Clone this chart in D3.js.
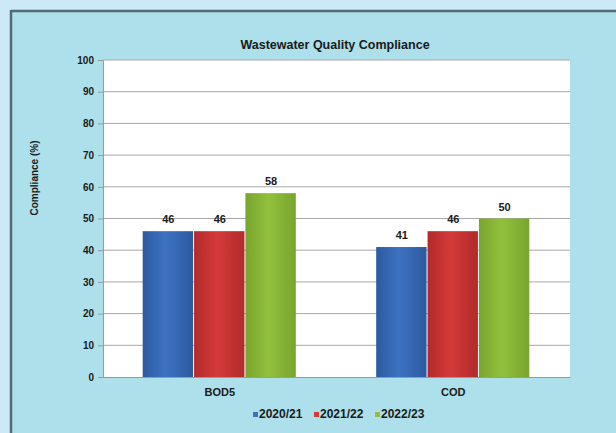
<!DOCTYPE html>
<html><head><meta charset="utf-8">
<script src="https://cdn.jsdelivr.net/npm/d3@7"></script>
<style>html,body{margin:0;padding:0;background:#cde9f7;}svg{display:block;}</style>
</head><body>
<script>
const categories = ["BOD5", "COD"];
const seriesNames = ["2020/21", "2021/22", "2022/23"];
const v2020 = [46, 41];
const v2021 = [46, 46];
const v2022 = [58, 50];
const yTicks = [0,10,20,30,40,50,60,70,80,90,100];
const title = "Wastewater Quality Compliance";
const yLabel = "Compliance (%)";
const colors = ["#3d72c2", "#d43a3a", "#92c03e"];
const darks = ["#2c5aa0", "#b32a2a", "#78a52c"];

(function(){
const W = 616, H = 433;
const FONT = "Liberation Sans, Arial, sans-serif";
const svg = d3.select("body").append("svg").attr("width", W).attr("height", H);
const defs = svg.append("defs");
colors.forEach((c,i)=>{
  const g = defs.append("linearGradient").attr("id","g"+i).attr("x1","0").attr("x2","1").attr("y1","0").attr("y2","0");
  g.append("stop").attr("offset","0%").attr("stop-color",darks[i]);
  g.append("stop").attr("offset","45%").attr("stop-color",c);
  g.append("stop").attr("offset","100%").attr("stop-color",darks[i]);
});
svg.append("rect").attr("x",0).attr("y",0).attr("width",W).attr("height",H).attr("fill","#cde9f7");
svg.append("rect").attr("x",11).attr("y",11).attr("width",W-11).attr("height",H-11).attr("fill","#ade0ea");
svg.append("line").attr("x1",11).attr("x2",W).attr("y1",11).attr("y2",11).attr("stroke","#4d6c74").attr("stroke-width",2.5);
svg.append("line").attr("x1",11).attr("x2",11).attr("y1",10).attr("y2",H).attr("stroke","#4d6c74").attr("stroke-width",2.5);

const pL = 103, pR = 570, pT = 60, pB = 377;
const x = d3.scaleBand().domain(categories).range([pL,pR]).paddingInner(0.34).paddingOuter(0.17);
const x1 = d3.scaleBand().domain(seriesNames).range([0,x.bandwidth()]).padding(0);
const y = d3.scaleLinear().domain([0,100]).range([pB, pT]);

svg.append("rect").attr("x",pL).attr("y",pT).attr("width",pR-pL).attr("height",pB-pT).attr("fill","#ffffff");
svg.append("g").selectAll("line").data(yTicks.filter(d=>d>0)).join("line")
  .attr("x1",pL).attr("x2",pR).attr("y1",d=>y(d)).attr("y2",d=>y(d))
  .attr("stroke","#a8a8a8").attr("stroke-width",1);

const yAxis = svg.append("g").attr("transform",`translate(${pL},0)`)
  .call(d3.axisLeft(y).tickValues(yTicks).tickSize(5).tickPadding(4));
yAxis.select(".domain").attr("stroke","#9a9a9a");
yAxis.selectAll(".tick line").attr("stroke","#9a9a9a");
yAxis.selectAll("text").attr("font-family",FONT).attr("font-weight","bold").attr("font-size","10px").attr("fill","#1a1a1a");

const xAxis = svg.append("g").attr("transform",`translate(0,${pB})`)
  .call(d3.axisBottom(x).tickSize(0).tickPadding(11));
xAxis.select(".domain").attr("stroke","#9a9a9a");
xAxis.selectAll("text").attr("font-family",FONT).attr("font-weight","bold").attr("font-size","11px").attr("fill","#1a1a1a");

const values = [v2020, v2021, v2022];
const rows = [];
categories.forEach((c,ci)=>seriesNames.forEach((s,si)=>rows.push({c, s, si, v: values[si][ci]})));

svg.append("g").selectAll("rect").data(rows).join("rect")
  .attr("x",d=>x(d.c)+x1(d.s)).attr("width",x1.bandwidth()-1)
  .attr("y",d=>y(d.v)).attr("height",d=>pB-y(d.v))
  .attr("fill",d=>`url(#g${d.si})`);

svg.append("g").selectAll("text").data(rows).join("text")
  .attr("x",d=>x(d.c)+x1(d.s)+x1.bandwidth()/2).attr("y",d=>y(d.v)-8)
  .attr("text-anchor","middle").attr("font-family",FONT)
  .attr("font-weight","bold").attr("font-size","11px").attr("fill","#1a1a1a").text(d=>d.v);

svg.append("text").attr("x",335).attr("y",49).attr("text-anchor","middle")
  .attr("font-family",FONT).attr("font-weight","bold").attr("font-size","12.5px").attr("fill","#1a1a1a").text(title);

svg.append("text").attr("transform","translate(38,178) rotate(-90)").attr("text-anchor","middle")
  .attr("font-family",FONT).attr("font-weight","bold").attr("font-size","10px").attr("fill","#1a1a1a").text(yLabel);

const legendX = [253, 314, 375];
const lg = svg.append("g").selectAll("g").data(seriesNames).join("g").attr("transform",(d,i)=>`translate(${legendX[i]},415)`);
lg.append("rect").attr("x",0).attr("y",-3).attr("width",5).attr("height",5).attr("fill",(d,i)=>colors[i]);
lg.append("text").attr("x",6).attr("y",0).attr("dominant-baseline","middle")
  .attr("font-family",FONT).attr("font-weight","bold").attr("font-size","12px").attr("fill","#1a1a1a").text(d=>d);
})();
</script>
</body></html>
